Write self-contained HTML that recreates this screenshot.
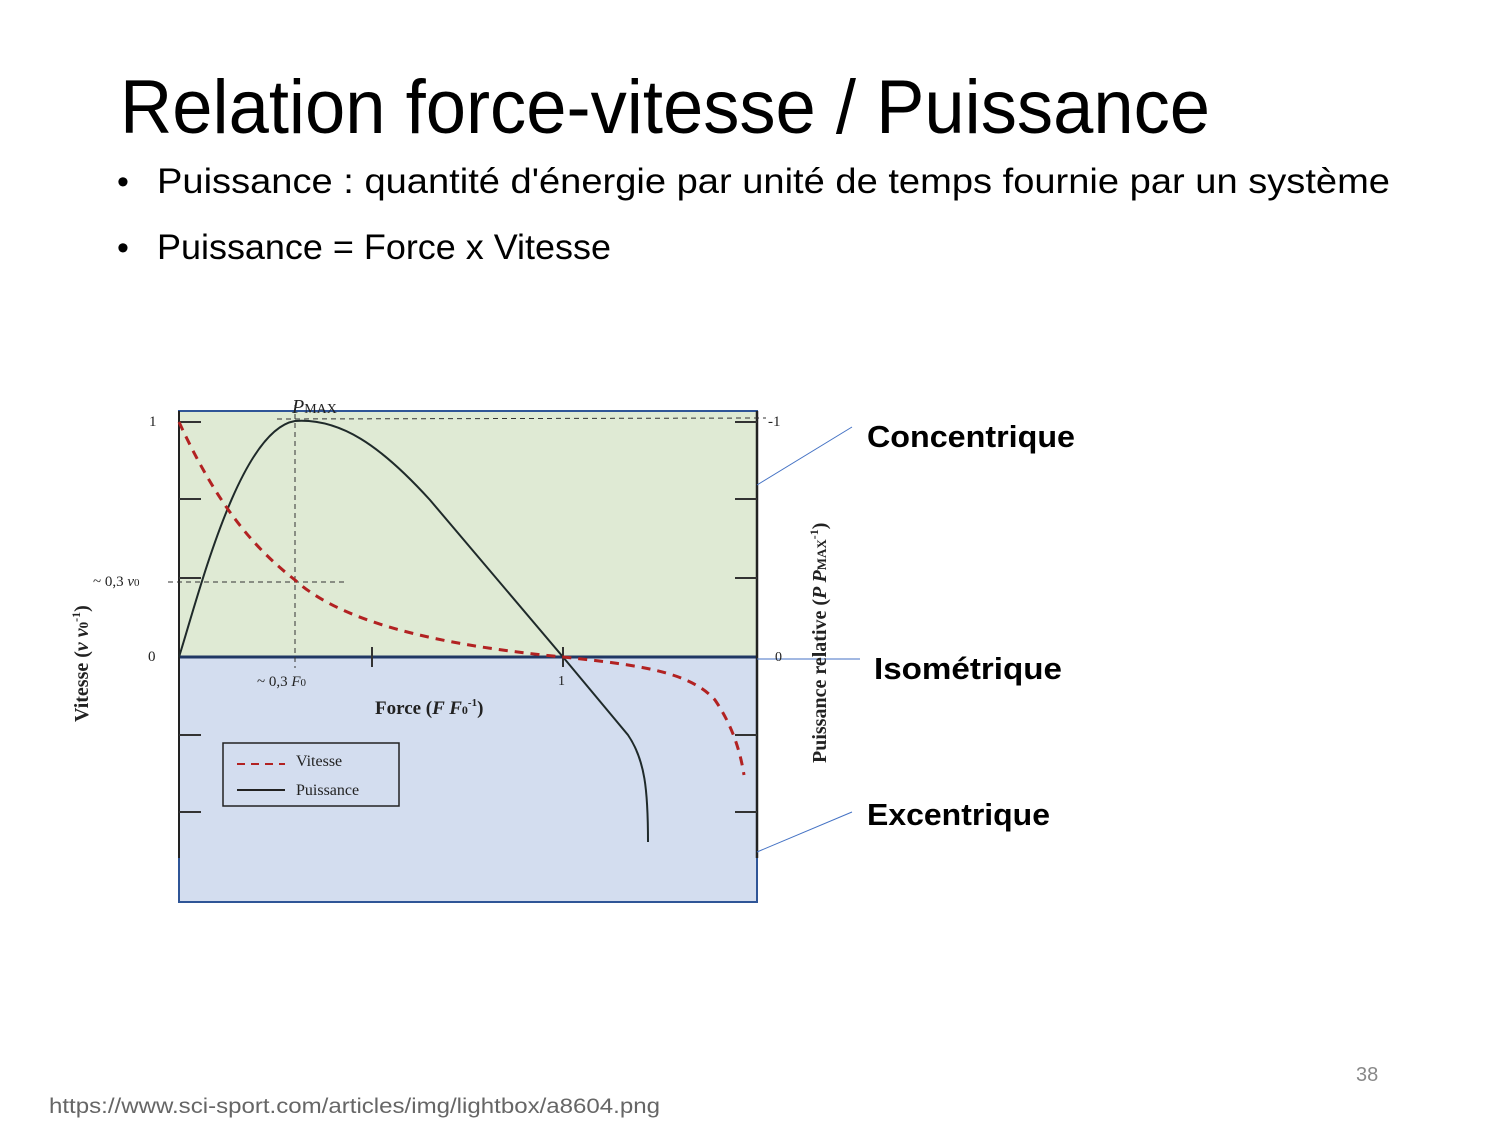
<!DOCTYPE html>
<html><head><meta charset="utf-8"><style>
html,body{margin:0;padding:0;background:#fff;}
svg{display:block;}
</style></head><body>
<svg width="1500" height="1125" viewBox="0 0 1500 1125" xmlns="http://www.w3.org/2000/svg">
<rect width="1500" height="1125" fill="#fff"/>
<g font-family="Liberation Sans, sans-serif" fill="#000">
<text x="120" y="133" font-size="76" textLength="1090" lengthAdjust="spacingAndGlyphs">Relation force-vitesse / Puissance</text>
<text x="117" y="193" font-size="34">•</text>
<text x="157" y="193" font-size="35" textLength="1233" lengthAdjust="spacingAndGlyphs">Puissance : quantité d'énergie par unité de temps fournie par un système</text>
<text x="117" y="259" font-size="34">•</text>
<text x="157" y="259" font-size="35" textLength="454" lengthAdjust="spacingAndGlyphs">Puissance = Force x Vitesse</text>
<text x="867" y="447" font-size="31" font-weight="bold" textLength="208" lengthAdjust="spacingAndGlyphs">Concentrique</text>
<text x="874" y="679" font-size="31" font-weight="bold" textLength="188" lengthAdjust="spacingAndGlyphs">Isométrique</text>
<text x="867" y="825" font-size="31" font-weight="bold" textLength="183" lengthAdjust="spacingAndGlyphs">Excentrique</text>
<text x="1356" y="1081" font-size="20" fill="#888">38</text>
<text x="49" y="1113" font-size="21" fill="#666" textLength="611" lengthAdjust="spacingAndGlyphs">https://www.sci-sport.com/articles/img/lightbox/a8604.png</text>
</g>
<rect x="179" y="411" width="578" height="246" fill="#dfead4" stroke="#2f5597" stroke-width="2"/>
<rect x="179" y="657" width="578" height="245" fill="#d3ddef" stroke="#2f5597" stroke-width="2"/>
<line x1="179" y1="657" x2="757" y2="657" stroke="#203864" stroke-width="3"/>
<line x1="179" y1="411" x2="179" y2="858" stroke="#222" stroke-width="2"/>
<line x1="757" y1="411" x2="757" y2="858" stroke="#222" stroke-width="2.5"/>
<g stroke="#333" stroke-width="2">
<line x1="179" y1="422" x2="201" y2="422"/><line x1="179" y1="499" x2="201" y2="499"/><line x1="179" y1="578" x2="201" y2="578"/>
<line x1="179" y1="735" x2="201" y2="735"/><line x1="179" y1="812" x2="201" y2="812"/>
<line x1="735" y1="422" x2="757" y2="422"/><line x1="735" y1="499" x2="757" y2="499"/><line x1="735" y1="578" x2="757" y2="578"/>
<line x1="735" y1="735" x2="757" y2="735"/><line x1="735" y1="812" x2="757" y2="812"/>
<line x1="372" y1="647" x2="372" y2="667"/><line x1="563" y1="647" x2="563" y2="667"/>
</g>
<g stroke="#333" stroke-width="1" stroke-dasharray="5,4" fill="none">
<line x1="295" y1="405" x2="295" y2="668"/>
<line x1="168" y1="582" x2="348" y2="582"/>
<line x1="277" y1="419" x2="766" y2="418"/>
</g>
<path d="M179,657 C200,590 240,430 295,421 C340,418 380,445 430,500 L563,657 L628,735 C645,760 648,790 648,842" fill="none" stroke="#1f2a2a" stroke-width="2"/>
<path d="M179,422 C215,500 250,545 295,580 C350,630 470,648 563,657 C640,665 690,672 715,700 C732,725 740,750 744,775" fill="none" stroke="#b22222" stroke-width="3" stroke-dasharray="9,7"/>
<g stroke="#4472c4" stroke-width="1">
<line x1="757" y1="485" x2="852" y2="427"/>
<line x1="757" y1="659" x2="860" y2="659"/>
<line x1="757" y1="852" x2="852" y2="812"/>
</g>
<rect x="223" y="743" width="176" height="63" fill="none" stroke="#222" stroke-width="1.5"/>
<line x1="237" y1="764" x2="285" y2="764" stroke="#b22222" stroke-width="2" stroke-dasharray="8,6"/>
<line x1="237" y1="790" x2="285" y2="790" stroke="#222" stroke-width="2"/>
<g font-family="Liberation Serif, serif" fill="#222">
<text x="296" y="766" font-size="16">Vitesse</text>
<text x="296" y="795" font-size="16">Puissance</text>
<text x="149" y="426" font-size="15">1</text>
<text x="148" y="661" font-size="15">0</text>
<text x="93" y="586" font-size="15">~ 0,3 <tspan font-style="italic">v</tspan><tspan font-size="11">0</tspan></text>
<text x="257" y="686" font-size="15">~ 0,3 <tspan font-style="italic">F</tspan><tspan font-size="11">0</tspan></text>
<text x="558" y="685" font-size="14">1</text>
<text x="775" y="661" font-size="14">0</text>
<text x="768" y="426" font-size="15">-1</text>
<text x="292" y="413" font-size="20" font-style="italic">P<tspan font-style="normal" font-size="14">MAX</tspan></text>
<text x="375" y="714" font-size="19" font-weight="bold">Force (<tspan font-style="italic">F F</tspan><tspan font-size="12">0</tspan><tspan font-size="11" dy="-8">-1</tspan><tspan dy="8">)</tspan></text>
<text transform="translate(88,722) rotate(-90)" font-size="20" font-weight="bold">Vitesse (<tspan font-style="italic">v v</tspan><tspan font-size="13">0</tspan><tspan font-size="12" dy="-8">-1</tspan><tspan dy="8">)</tspan></text>
<text transform="translate(826,763) rotate(-90)" font-size="20" font-weight="bold">Puissance relative (<tspan font-style="italic">P P</tspan><tspan font-size="13">MAX</tspan><tspan font-size="12" dy="-8">-1</tspan><tspan dy="8">)</tspan></text>
</g>
</svg>
</body></html>
